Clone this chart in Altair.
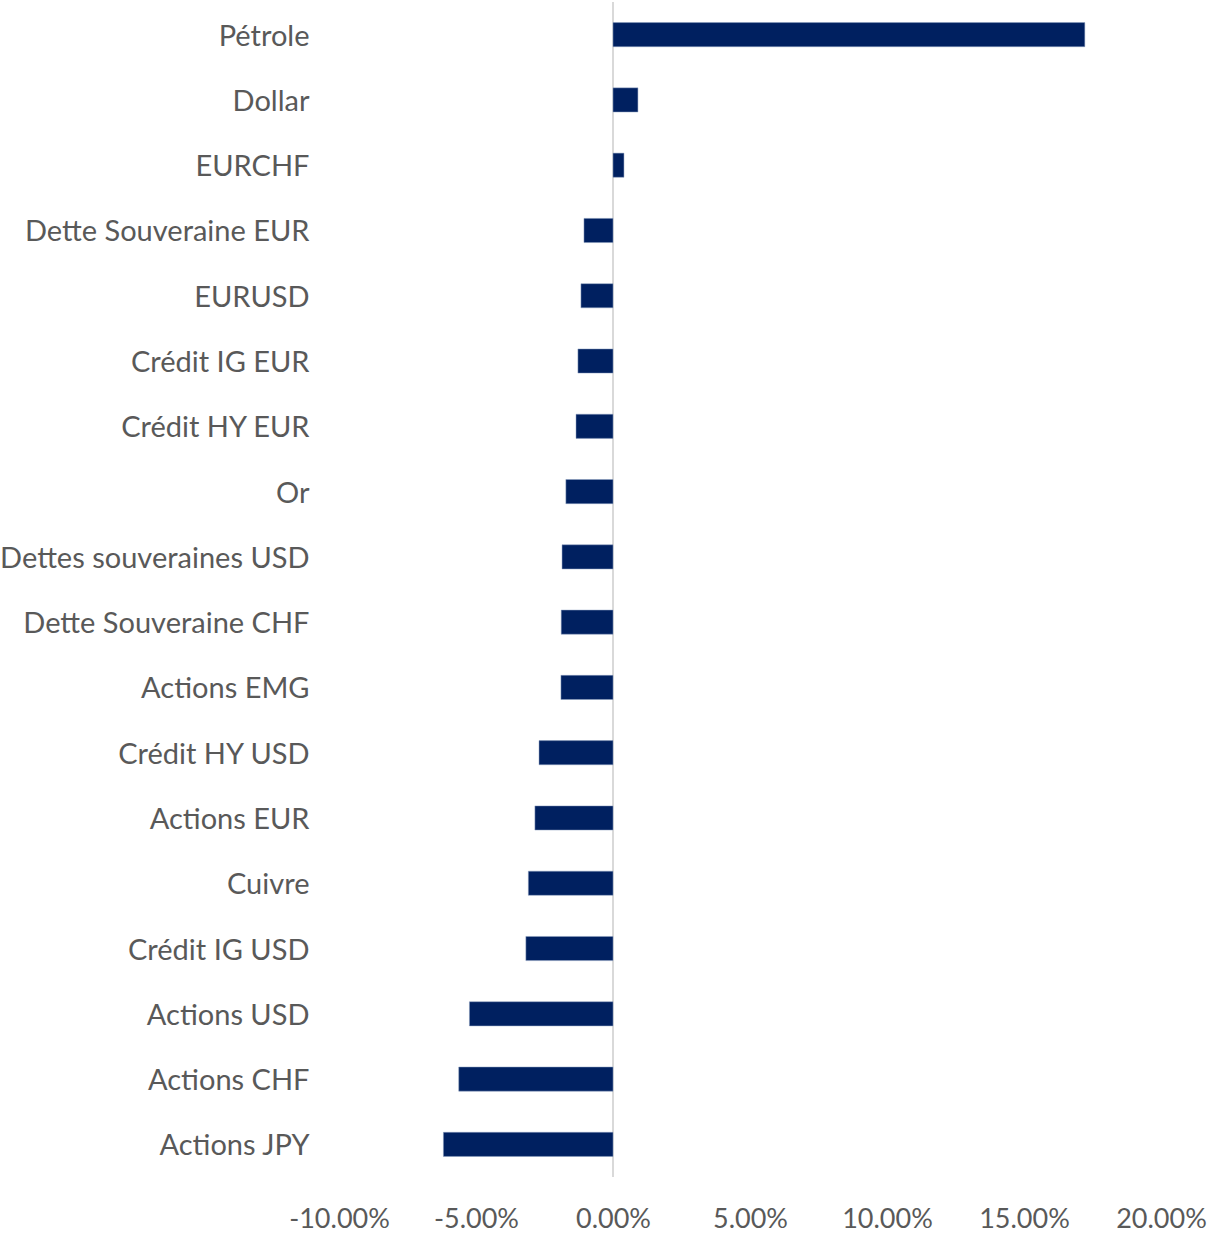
import altair as alt
import pandas as pd

categories = [
    "Pétrole", "Dollar", "EURCHF", "Dette Souveraine EUR", "EURUSD",
    "Crédit IG EUR", "Crédit HY EUR", "Or", "Dettes souveraines USD",
    "Dette Souveraine CHF", "Actions EMG", "Crédit HY USD", "Actions EUR",
    "Cuivre", "Crédit IG USD", "Actions USD", "Actions CHF", "Actions JPY",
]
values = [
    0.1722, 0.0091, 0.0040, -0.0106, -0.0117,
    -0.0128, -0.0135, -0.0172, -0.0186,
    -0.0189, -0.0190, -0.0270, -0.0285,
    -0.0309, -0.0318, -0.0524, -0.0563, -0.0619,
]
x_ticks = [-0.10, -0.05, 0.0, 0.05, 0.10, 0.15, 0.20]

df = pd.DataFrame({"cat": categories, "val": values})

FONT = "Lato"
GREY = "#595959"

bars = alt.Chart(df).mark_bar(color="#002060", stroke="#8ea0c0", strokeWidth=0.5).encode(
    x=alt.X(
        "val:Q",
        scale=alt.Scale(domain=[-0.10, 0.20], nice=False, zero=False),
        axis=alt.Axis(
            values=x_ticks, title=None, grid=False, domain=False,
            labelExpr="(datum.value < 0 ? '-' : '') + format(abs(datum.value), '.2%')",
            ticks=False, labelFont=FONT, labelFontSize=27, labelColor=GREY,
            labelPadding=29, labelFlush=False,
        ),
    ),
    y=alt.Y(
        "cat:N",
        sort=categories,
        scale=alt.Scale(paddingInner=0.63, paddingOuter=0.315),
        axis=alt.Axis(
            title=None, grid=False, domain=False, ticks=False,
            labelFont=FONT, labelFontSize=29, labelColor=GREY,
            labelPadding=30, labelLimit=400, labelOffset=2,
        ),
    ),
)

zero = alt.Chart(pd.DataFrame({"z": [0.0]})).mark_rule(color="#d9d9d9", strokeWidth=2).encode(
    x="z:Q"
)

chart = (
    alt.layer(zero, bars)
    .properties(
        width=822,
        height=1175,
        autosize=alt.AutoSizeParams(type="none"),
        padding={"left": 339, "top": 2, "right": 49, "bottom": 58},
    )
    .configure(background="white")
    .configure_view(strokeWidth=0, stroke="transparent")
)

chart.save("out.html", embed_options={"renderer": "svg", "actions": False})
